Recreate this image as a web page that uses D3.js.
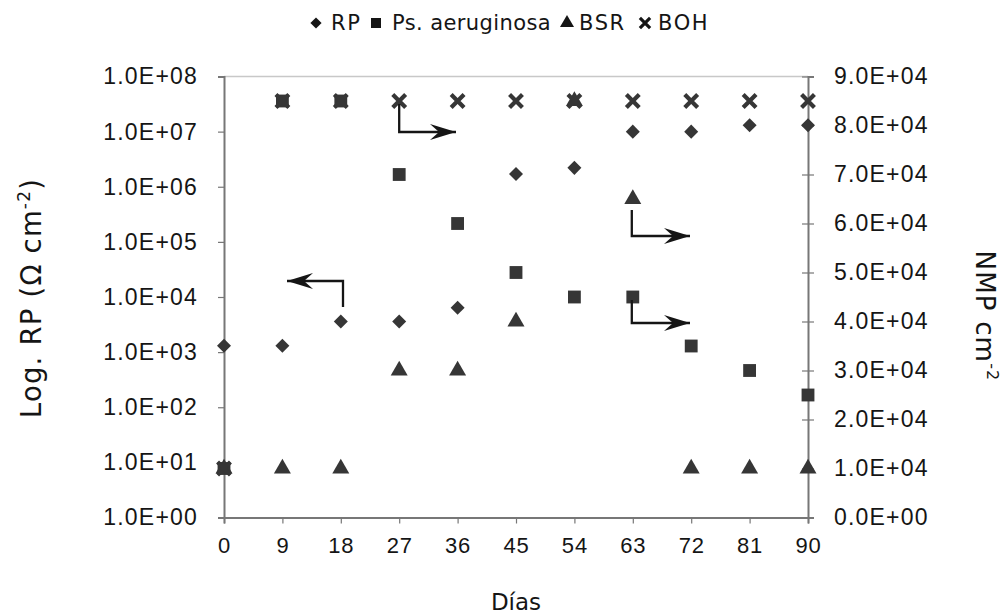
<!DOCTYPE html>
<html>
<head>
<meta charset="utf-8">
<script src="https://cdn.jsdelivr.net/npm/d3@7/dist/d3.min.js"></script>
<style>
  html, body { margin: 0; padding: 0; background: #fff; }
  svg { display: block; font-family: "DejaVu Sans", Verdana, sans-serif; }
</style>
</head>
<body>
<svg id="chart" width="1004" height="615"></svg>
<script>
// Sampling days
const days = [0, 9, 18, 27, 36, 45, 54, 63, 72, 81, 90];
// Polarisation resistance (Ω cm-2), left log axis
const rp = [1300, 1300, 3600, 3600, 6400, 1.7e6, 2.2e6, 1.0e7, 1.0e7, 1.3e7, 1.3e7];
// Bacterial counts (NMP cm-2), right linear axis
const psAeruginosa = [10000, 85000, 85000, 70000, 60000, 50000, 45000, 45000, 35000, 30000, 25000];
const bsr = [10000, 10000, 10000, 30000, 30000, 40000, 85000, 65000, 10000, 10000, 10000];
const boh = [10000, 85000, 85000, 85000, 85000, 85000, 85000, 85000, 85000, 85000, 85000];

// Tick values
const leftTicks = [1e0, 1e1, 1e2, 1e3, 1e4, 1e5, 1e6, 1e7, 1e8];
const rightTicks = [0, 10000, 20000, 30000, 40000, 50000, 60000, 70000, 80000, 90000];

const svg = d3.select("#chart");
const plotLeft = 224, plotRight = 808, plotTop = 76.5, plotBottom = 517.5;
const ink = "#151515", markFill = "#363636", axisCol = "#777";

const x = d3.scaleLinear().domain([0, 90]).range([plotLeft, plotRight]);
const yL = d3.scaleLog().domain([1, 1e8]).range([plotBottom, plotTop]);
const yR = d3.scaleLinear().domain([0, 90000]).range([plotBottom, plotTop]);

const fmtLeft = d => "1.0E+" + String(Math.round(Math.log10(d))).padStart(2, "0");
const fmtRight = d => d === 0 ? "0.0E+00" : (d / 10000).toFixed(1) + "E+04";

// plot frame top edge
svg.append("line").attr("x1", plotLeft).attr("x2", plotRight).attr("y1", plotTop).attr("y2", plotTop)
  .attr("stroke", "#c8c8c8").attr("stroke-width", 1.5);

// axes
const axL = svg.append("g").attr("transform", `translate(${plotLeft},0)`)
  .call(d3.axisLeft(yL).tickValues(leftTicks).tickFormat(fmtLeft).tickSize(6).tickPadding(20));
const axR = svg.append("g").attr("transform", `translate(${plotRight},0)`)
  .call(d3.axisRight(yR).tickValues(rightTicks).tickFormat(fmtRight).tickSize(6).tickPadding(20));
const axX = svg.append("g").attr("transform", `translate(0,${plotBottom})`)
  .call(d3.axisBottom(x).tickValues(days).tickFormat(d3.format("d")).tickSize(6).tickPadding(14));

// right axis ticks cross the line
axR.selectAll(".tick line").attr("x1", -6);

[axL, axR, axX].forEach(g => {
  g.select(".domain").attr("stroke", axisCol).attr("stroke-width", 2);
  g.selectAll(".tick line").attr("stroke", axisCol).attr("stroke-width", 1.2);
  g.selectAll(".tick text").attr("fill", ink).attr("font-size", 23)
    .attr("letter-spacing", 1.2);
});
axX.selectAll(".tick text").attr("font-size", 22).attr("letter-spacing", 0.8);

// markers
const diamond = d3.symbol().type(d3.symbolDiamond2).size(125);
const square = d3.symbol().type(d3.symbolSquare).size(165);
const triangle = d3.symbol().type(d3.symbolTriangle).size(125);
const cross = d3.symbol().type(d3.symbolX).size(110);

function drawSeries(vals, yScale, gen, stroke) {
  const g = svg.append("g");
  const sel = g.selectAll("path").data(days.map((d, i) => [d, vals[i]])).join("path")
    .attr("transform", d => `translate(${x(d[0])},${yScale(d[1])})`)
    .attr("d", gen);
  if (stroke) sel.attr("fill", "none").attr("stroke", markFill).attr("stroke-width", 4.2);
  else sel.attr("fill", markFill);
}
drawSeries(rp, yL, diamond, false);
drawSeries(psAeruginosa, yR, square, false);
drawSeries(bsr, yR, triangle, false);
drawSeries(boh, yR, cross, true);

// axis-indicating arrows
function elbowArrow(x0, y0, x1, y1, x2, y2) {
  svg.append("path")
    .attr("d", `M${x0},${y0}L${x1},${y1}L${x2},${y2}`)
    .attr("fill", "none").attr("stroke", ink).attr("stroke-width", 2.3);
  const dir = Math.sign(x2 - x1);
  svg.append("path")
    .attr("d", `M${x2},${y2}L${x2 - dir * 26},${y2 - 8}L${x2 - dir * 17},${y2}L${x2 - dir * 26},${y2 + 8}Z`)
    .attr("fill", ink);
}
elbowArrow(x(27), 104, x(27), 132, 456, 132);
elbowArrow(343, 307, 343, 281, 287, 281);
elbowArrow(x(63) - 1, 210, x(63) - 1, 236, 690, 236);
elbowArrow(x(63) - 1, 300, x(63) - 1, 323, 690, 323);

// axis titles
const tL = svg.append("text").attr("transform", "translate(41,298) rotate(-90)")
  .attr("text-anchor", "middle").attr("font-size", 27.5).attr("fill", ink).attr("letter-spacing", 1.2);
tL.append("tspan").text("Log. RP (Ω cm");
tL.append("tspan").text("-2").attr("font-size", 17).attr("dy", -11);
tL.append("tspan").text(")").attr("dy", 11);

const tR = svg.append("text").attr("transform", "translate(976,316) rotate(90)")
  .attr("text-anchor", "middle").attr("font-size", 26).attr("fill", ink).attr("letter-spacing", 1.2);
tR.append("tspan").text("NMP cm");
tR.append("tspan").text("-2").attr("font-size", 16).attr("dy", -11);

svg.append("text").attr("x", 516).attr("y", 610).attr("text-anchor", "middle")
  .attr("font-size", 23).attr("fill", ink).text("Días");

// legend: symbol centre and text start for each entry
const legendItems = [
  { name: "RP", gen: d3.symbol().type(d3.symbolDiamond2).size(80), stroke: false, sx: 316, tx: 331 },
  { name: "Ps. aeruginosa", gen: d3.symbol().type(d3.symbolSquare).size(100), stroke: false, sx: 376, tx: 392 },
  { name: "BSR", gen: d3.symbol().type(d3.symbolTriangle).size(85), stroke: false, sx: 567, tx: 579 },
  { name: "BOH", gen: d3.symbol().type(d3.symbolX).size(70), stroke: true, sx: 645, tx: 658 }
];
const lg = svg.append("g");
legendItems.forEach(it => {
  const p = lg.append("path").attr("transform", `translate(${it.sx},23)`).attr("d", it.gen);
  if (it.stroke) p.attr("fill", "none").attr("stroke", ink).attr("stroke-width", 3.2);
  else p.attr("fill", ink);
  lg.append("text").attr("x", it.tx).attr("y", 30).attr("font-size", 21)
    .attr("letter-spacing", it.name.length > 4 ? 0.4 : 1.6)
    .attr("fill", ink).text(it.name);
});
</script>
</body>
</html>
